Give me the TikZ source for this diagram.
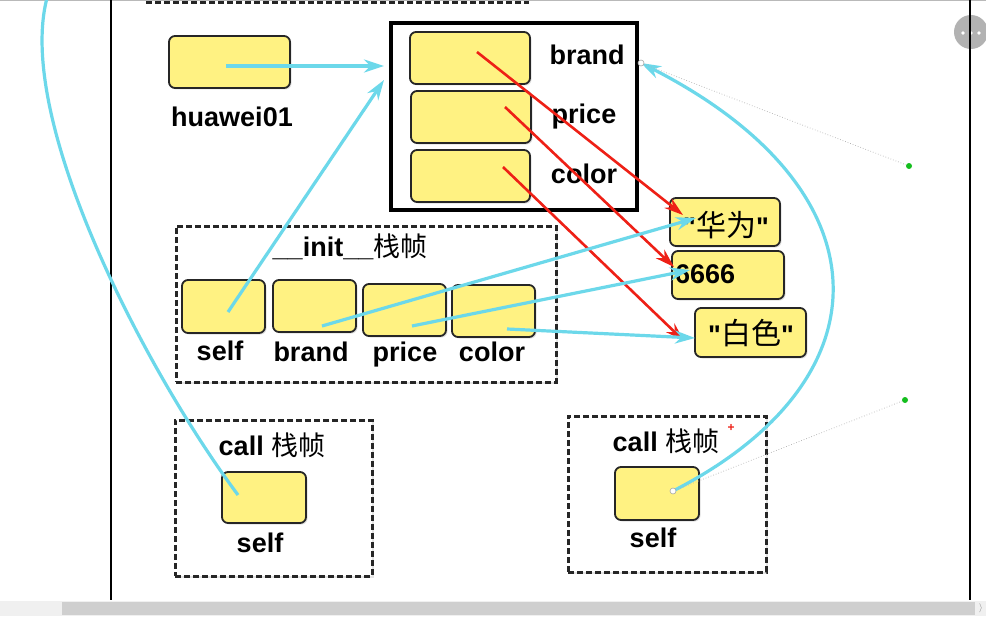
\documentclass[tikz,border=0pt]{standalone}
\usepackage{fontspec}
\setmainfont{Liberation Sans}
\newfontfamily\cjk{Noto Sans CJK SC}
\usetikzlibrary{shadows,arrows.meta}
\definecolor{yel}{RGB}{255,242,130}
\definecolor{cyl}{RGB}{108,216,234}
\definecolor{rdl}{RGB}{238,32,22}
\definecolor{hgreen}{RGB}{20,190,30}
\begin{document}
\begin{tikzpicture}[x=1pt,y=-1pt,
  cell/.style={rectangle,rounded corners=6pt,draw=black!85,line width=1.8pt,fill=yel,inner sep=0pt,
    drop shadow={opacity=0.25,shadow xshift=1.5pt,shadow yshift=-1.5pt}},
  frm/.style={rectangle,draw=black!85,line width=3pt,dash pattern=on 6pt off 3pt,fill=white,inner sep=0pt,
    drop shadow={opacity=0.2,shadow xshift=2pt,shadow yshift=-2pt}},
  lbl/.style={font=\bfseries\fontsize{27}{30}\selectfont,inner sep=0pt,anchor=base},
  cyarrow/.style={draw=cyl,line width=3.2pt,-{Stealth[length=20pt,width=13pt]}},
  cyline/.style={draw=cyl,line width=3.2pt},
  rdarrow/.style={draw=rdl,line width=2.6pt,-{Stealth[length=19pt,width=12pt]}},
  hdl/.style={draw=gray!60,line width=0.7pt,dotted},
  gdot/.style={circle,fill=hgreen,minimum size=6pt,inner sep=0pt},
  wdot/.style={circle,fill=white,draw=gray!70,line width=0.6pt,minimum size=6pt,inner sep=0pt}]
\clip (0,0) rectangle (986,618);
\useasboundingbox (0,0) rectangle (986,618);
\fill[white] (0,0) rectangle (986,618);
% editor decorations
\draw[gray!55,line width=1pt] (0,1) -- (986,1);
\node[circle,fill=gray!60,minimum size=34pt,inner sep=0pt] (menu) at (971,32) {};
\foreach \dx in {-8,0,8}{\fill[white] (971+\dx,33) circle (1.8);}
\draw[black,line width=2.4pt] (111,0) -- (111,600);
\draw[black,line width=2.4pt] (970,0) -- (970,600);
\draw[black!85,line width=3pt,dash pattern=on 6pt off 3pt] (146,3) -- (529,3);
\fill[gray!12] (0,601) rectangle (986,616);
\fill[gray!38] (62,602) rectangle (975,615);
\node[text=gray,font=\fontsize{9}{9}\selectfont,inner sep=0pt] (scr) at (981,608) {$\rangle$};
% frames
\node[frm,minimum width=380pt,minimum height=156pt] (init) at (366,304) {};
\node[frm,minimum width=197pt,minimum height=156pt] (callL) at (273.5,498) {};
\node[frm,minimum width=198pt,minimum height=156pt] (callR) at (667,494) {};
\node[rectangle,draw=black,line width=3.6pt,fill=white,minimum width=246pt,minimum height=187pt,
  drop shadow={opacity=0.25,shadow xshift=2pt,shadow yshift=-2pt}] (obj) at (514,116.5) {};
% cells
\node[cell,minimum width=121pt,minimum height=52pt] (hw) at (229.5,62) {};
\node[cell,minimum width=120pt,minimum height=52pt] (ob1) at (470,58) {};
\node[cell,minimum width=120pt,minimum height=52pt] (ob2) at (471,117) {};
\node[cell,minimum width=119pt,minimum height=52pt] (ob3) at (470.5,176) {};
\node[cell,minimum width=110pt,minimum height=48pt] (s1) at (725,222) {};
\node[cell,minimum width=112pt,minimum height=48pt] (s2) at (728,275) {};
\node[cell,minimum width=111pt,minimum height=49pt] (s3) at (750.5,332.5) {};
\node[cell,minimum width=83pt,minimum height=53pt] (i1) at (223.5,306.5) {};
\node[cell,minimum width=83pt,minimum height=52pt] (i2) at (314.5,306) {};
\node[cell,minimum width=83pt,minimum height=52pt] (i3) at (404.5,310) {};
\node[cell,minimum width=83pt,minimum height=52pt] (i4) at (493.5,311) {};
\node[cell,minimum width=84pt,minimum height=51pt] (c1) at (264,497.5) {};
\node[cell,minimum width=84pt,minimum height=53pt] (c2) at (657,493.5) {};
% labels
\node[lbl] (hwl) at (232,126) {huawei01};
\node[lbl] (ob1l) at (587,65) {brand};
\node[lbl] (ob2l) at (584,124) {price};
\node[lbl] (ob3l) at (584,183) {color};
\node[lbl] (initl) at (350,256) {\_\_init\_\_{\mdseries\cjk 栈帧}};
\node[lbl] (i1l) at (220,360) {self};
\node[lbl] (i2l) at (311,361) {brand};
\node[lbl] (i3l) at (405,361) {price};
\node[lbl] (i4l) at (492,361) {color};
\node[lbl] (c1t) at (272,455) {call {\mdseries\cjk 栈帧}};
\node[lbl] (c1l) at (260,552) {self};
\node[lbl] (c2t) at (666,451) {call {\mdseries\cjk 栈帧}};
\node[lbl] (c2l) at (653,547) {self};
\node[lbl] (s1t) at (726,236) {\textquotedbl{\mdseries\cjk\fontsize{30}{32}\selectfont 华为}\textquotedbl};
\node[lbl,anchor=base west] (s2t) at (675,283) {6666};
\node[lbl] (s3t) at (751,344) {\textquotedbl{\mdseries\cjk\fontsize{30}{32}\selectfont 白色}\textquotedbl};
\node[text=rdl,font=\bfseries\fontsize{12}{12}\selectfont,inner sep=0pt] (plus) at (731,428) {+};
% pointer coordinates
\coordinate (hwP) at (226,66);
\coordinate (objA) at (384,66);
\coordinate (objB) at (384,80);
\coordinate (i1P) at (228,312);
\coordinate (i2P) at (322,326);
\coordinate (i3P) at (412,326);
\coordinate (i4P) at (507,329);
\coordinate (ob1P) at (477,52);
\coordinate (ob2P) at (505,107);
\coordinate (ob3P) at (503,167);
\coordinate (s1A) at (683,215);
\coordinate (s2A) at (674,267);
\coordinate (s3A) at (684,341);
\coordinate (s1B) at (696,218);
\coordinate (s2B) at (690,270);
\coordinate (s3B) at (695,338);
\coordinate (c1P) at (238,495);
\coordinate (topL) at (47,-2);
\coordinate (c2P) at (673,491);
\coordinate (brandEnd) at (641,63);
% red arrows
\draw[rdarrow] (ob1P) -- (s1A);
\draw[rdarrow] (ob2P) -- (s2A);
\draw[rdarrow] (ob3P) -- (s3A);
% cyan arrows
\draw[cyarrow] (hwP) -- (objA);
\draw[cyarrow] (i1P) -- (objB);
\draw[cyarrow] (i2P) -- (s1B);
\draw[cyarrow] (i3P) -- (s2B);
\draw[cyarrow] (i4P) -- (s3B);
\draw[cyline] (c1P) .. controls (145,370) and (15,120) .. (topL);
\draw[cyarrow] (c2P) .. controls (890,380) and (890,190) .. (brandEnd);
% editor handles
\node[gdot] (g1) at (909,166) {};
\node[gdot] (g2) at (905,400) {};
\draw[hdl] (brandEnd) -- (g1);
\draw[hdl] (c2P) -- (g2);
\node[wdot] (w1) at (brandEnd) {};
\node[wdot] (w2) at (c2P) {};
\end{tikzpicture}
\end{document}
